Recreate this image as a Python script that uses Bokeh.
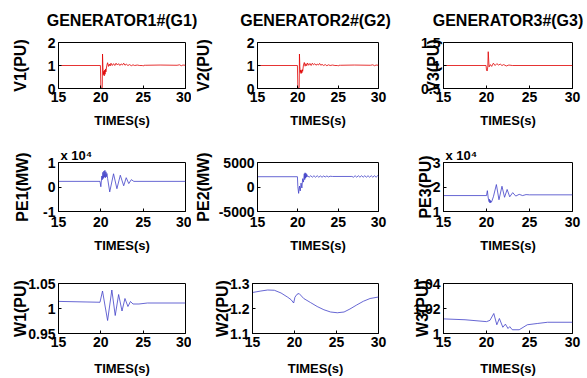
from bokeh.plotting import figure
from bokeh.layouts import column, row
from bokeh.models import FixedTicker, Range1d, Title, ColumnDataSource
from bokeh.core.properties import value
from bokeh.embed import file_html
from bokeh.resources import INLINE

FONT = "Liberation Sans"

# ---------------- data ----------------
titles = ["GENERATOR1#(G1)", "GENERATOR2#(G2)", "GENERATOR3#(G3)"]
x_ticks = [15, 20, 25, 30]
x_label = "TIMES(s)"

# Row 1: terminal voltage (PU)
t_v1 = [15.0, 19.95, 20.0, 20.05, 20.12, 20.17, 20.2, 20.25, 20.3, 20.35, 20.4, 20.45, 20.5, 20.55,
        20.6, 20.7, 20.8, 20.9, 21.0, 21.1, 21.2, 21.35, 21.5, 21.65, 21.8, 21.95, 22.1, 22.25,
        22.4, 22.55, 22.7, 22.85, 23.0, 23.2, 23.4, 23.6, 23.8, 24.0, 24.3, 24.6, 24.9, 25.0,
        25.1, 25.3, 27.0, 29.0, 29.3, 29.5, 29.7, 30.0]
v1 = [1.0, 1.0, 0.05, 0.02, 0.04, 0.03, 1.5, 0.9, 0.6, 0.75, 0.55, 0.8, 0.62, 0.85,
      0.72, 1.0, 1.12, 0.96, 1.06, 0.98, 1.1, 1.0, 1.08, 1.0, 1.1, 1.02, 1.08, 1.0,
      1.07, 1.02, 1.1, 1.01, 1.06, 1.0, 1.04, 0.99, 1.03, 1.0, 1.02, 1.0, 1.0, 0.98,
      1.01, 1.01, 1.02, 1.01, 1.03, 0.99, 1.02, 1.01]

t_v2 = [15.0, 19.95, 20.0, 20.05, 20.12, 20.17, 20.2, 20.25, 20.3, 20.35, 20.4, 20.45, 20.5, 20.55,
        20.6, 20.7, 20.8, 20.9, 21.0, 21.1, 21.2, 21.35, 21.5, 21.65, 21.8, 21.95, 22.1, 22.25,
        22.4, 22.55, 22.7, 22.85, 23.0, 23.2, 23.4, 23.6, 23.8, 24.0, 24.3, 24.6, 24.9, 25.0,
        25.1, 25.3, 27.0, 29.0, 29.3, 29.5, 29.7, 30.0]
v2 = [1.0, 1.0, 0.06, 0.03, 0.05, 0.04, 1.5, 0.95, 0.7, 0.8, 0.65, 0.78, 0.68, 0.82,
      0.75, 1.02, 1.13, 0.97, 1.08, 0.99, 1.11, 1.01, 1.09, 1.0, 1.1, 1.03, 1.08, 1.01,
      1.06, 1.02, 1.09, 1.01, 1.05, 1.0, 1.04, 0.99, 1.03, 1.0, 1.02, 1.0, 1.0, 0.98,
      1.01, 1.01, 1.02, 1.01, 1.03, 0.99, 1.02, 1.01]

t_v3 = [15.0, 19.95, 20.0, 20.08, 20.15, 20.2, 20.3, 20.45, 20.6, 20.8, 21.0, 21.2, 21.4, 21.6,
        21.8, 22.0, 22.3, 22.6, 23.0, 30.0]
v3 = [1.0, 1.0, 0.9, 0.88, 0.97, 1.3, 0.97, 1.02, 0.98, 1.05, 1.0, 1.04, 1.01, 1.03,
      1.0, 1.02, 0.99, 1.01, 1.0, 1.0]

# Row 2: electrical power (MW)
t_pe1 = [15.0, 19.9, 20.0, 20.05, 20.12, 20.18, 20.24, 20.3, 20.36, 20.42, 20.48, 20.54, 20.6,
         20.66, 20.72, 20.8, 21.05, 21.5, 21.9, 22.3, 22.7, 23.0, 23.3, 23.6, 23.9, 30.0]
pe1 = [2300, 2300, 100, 2000, 4500, 3000, 6000, 3500, 6500, 4000, 6800, 3800, 6200,
       4200, 5500, 3500, -2000, 5400, -700, 4800, 500, 3800, 1400, 3000, 2300, 2300]

t_pe2 = [15.0, 19.95, 20.0, 20.1, 20.2, 20.3, 20.4, 20.5, 20.6, 20.7, 20.8, 20.85, 20.9, 20.95,
         21.0, 21.05, 21.1, 21.15, 21.2,
         21.4, 21.6, 21.8, 22.0, 22.2, 22.4, 22.6, 22.8, 23.0, 23.2, 23.4, 23.6, 23.8, 24.0,
         24.3, 26.7,
         26.9, 27.1, 27.3, 27.5, 27.7, 27.9, 28.1, 28.3, 28.5, 28.7, 28.9, 29.1, 29.3, 29.5,
         29.7, 29.9, 30.0]
pe2 = [2100, 2100, 100, -1300, 200, -800, 800, -200, 1700, 1000, 2700, 1500, 2900, 1800,
       2800, 2000, 2600, 2100, 2300,
       2000, 2300, 2000, 2300, 2000, 2300, 2000, 2250, 2000, 2250, 2050, 2250, 2050, 2200,
       2150, 2150,
       2000, 2300, 2000, 2300, 2000, 2300, 2000, 2300, 2000, 2300, 2000, 2300, 2000, 2300,
       2000, 2300, 2150]

t_pe3 = [15.0, 20.0, 20.1, 20.2, 20.3, 20.35, 20.4, 20.45, 20.5, 20.55, 20.6, 20.8, 21.15,
         21.45, 21.8, 22.1, 22.4, 22.7, 23.05, 23.4, 23.8, 24.2, 24.6, 25.0, 30.0]
pe3 = [16500, 16500, 18500, 15500, 14000, 15000, 13500, 14500, 13600, 14200, 14000, 16000, 21000,
       14800, 20300, 15800, 19000, 16000, 17700, 16300, 17000, 16500, 16900, 16800, 16800]

# Row 3: rotor speed (PU)
t_w1 = [15.0, 19.9, 20.2, 20.5, 20.8, 21.3, 21.7, 22.1, 22.5, 22.85, 23.2, 23.5, 23.8, 24.5,
        25.5, 30.0]
w1 = [1.0142, 1.0125, 1.035, 1.005, 0.976, 1.037, 0.986, 1.028, 0.995, 1.02, 1.004, 1.014,
      1.009, 1.009, 1.011, 1.011]

t_w2 = [15.0, 16.0, 16.8, 17.6, 18.4, 19.2, 19.6, 19.9, 20.05, 20.3, 20.55, 21.1, 21.9, 22.7,
        23.5, 24.3, 25.1, 25.9, 26.6, 27.4, 28.2, 29.0, 30.0]
w2 = [1.264, 1.27, 1.274, 1.273, 1.262, 1.245, 1.235, 1.222, 1.245, 1.257, 1.26, 1.24, 1.224,
      1.208, 1.195, 1.186, 1.183, 1.186, 1.198, 1.214, 1.229, 1.24, 1.246]

t_w3 = [15.0, 17.5, 20.0, 20.4, 20.85, 21.2, 21.5, 21.9, 22.2, 22.5, 22.7, 23.0, 23.8, 24.75,
        25.9, 27.1, 30.0]
w3 = [1.0117, 1.011, 1.0095, 1.0105, 1.016, 1.007, 1.012, 1.005, 1.0075, 1.004, 1.0055, 1.003,
      1.003, 1.007, 1.008, 1.009, 1.009]

y_labels = [["V1(PU)", "V2(PU)", "V3(PU)"],
            ["PE1(MW)", "PE2(MW)", "PE3(PU)"],
            ["W1(PU)", "W2(PU)", "W3(PU)"]]
y_ranges = [[(0, 2), (0, 2), (0.5, 1.5)],
            [(-10000, 10000), (-5000, 5000), (10000, 30000)],
            [(0.95, 1.05), (1.1, 1.3), (1.0, 1.04)]]
y_ticks = [[[0, 1, 2], [0, 1, 2], [0.5, 1, 1.5]],
           [[-10000, 0, 10000], [-5000, 0, 5000], [10000, 20000, 30000]],
           [[0.95, 1, 1.05], [1.1, 1.2, 1.3], [1.0, 1.02, 1.04]]]
y_tick_text = [[["0", "1", "2"], ["0", "1", "2"], ["0.5", "1", "1.5"]],
               [["-1", "0", "1"], ["-5000", "0", "5000"], ["1", "2", "3"]],
               [["0.95", "1", "1.05"], ["1.1", "1.2", "1.3"], ["1", "1.02", "1.04"]]]
exponent = [[None, None, None], ["x 10\u2074", None, "x 10\u2074"], [None, None, None]]
series = [[(t_v1, v1), (t_v2, v2), (t_v3, v3)],
          [(t_pe1, pe1), (t_pe2, pe2), (t_pe3, pe3)],
          [(t_w1, w1), (t_w2, w2), (t_w3, w3)]]
row_colors = ["#e00000", "#4040c8", "#4040c8"]

# ---------------- layout (pixels) ----------------
STRIP_H = 30
TITLE_Y = 10.5
cols = [(191, 58, 6), (209, 61, 22), (187, 43, 15)]       # width, left border, right border
rows = [(100, [10, 10, 12], [38, 39, 40]),
        (125, [31, 30, 32], [40, 40, 42]),
        (123, [28, 28, 28], [41, 39, 41])]
x_standoffs = [(3, 8), (5, 8), (3, 11)]                    # tick-label, axis-label standoff per row
label_standoff = [[16, 32, -24], [9, 4, -4], [-4, -4, -21]]
TOTAL_W = sum(c[0] for c in cols)


def style_axis(ax, label):
    ax.axis_label = label
    ax.axis_label_text_font = FONT
    ax.axis_label_text_font_style = "bold"
    ax.major_label_text_font = FONT
    ax.major_label_text_font_style = "bold"
    ax.major_label_text_font_size = "14px"
    ax.major_label_text_color = "black"
    ax.axis_label_text_color = "black"
    ax.major_tick_in = 3
    ax.major_tick_out = 0
    ax.minor_tick_line_color = None
    ax.axis_line_color = "black"
    ax.major_tick_line_color = "black"


figs_rows = []
for r, (rh, tops, bottoms) in enumerate(rows):
    figs = []
    for c, (cw, bl, br) in enumerate(cols):
        y0, y1 = y_ranges[r][c]
        p = figure(width=cw, height=rh, x_range=Range1d(15, 30), y_range=Range1d(y0, y1),
                   output_backend="svg", toolbar_location=None, title=None,
                   min_border_left=bl, min_border_right=br,
                   min_border_top=tops[c], min_border_bottom=bottoms[c])
        t, v = series[r][c]
        p.line(t, v, line_color=row_colors[r], line_width=0.8)
        p.grid.visible = False
        p.outline_line_color = "black"
        p.background_fill_color = "white"
        p.border_fill_color = "white"

        xa = p.xaxis[0]
        style_axis(xa, x_label)
        xa.ticker = FixedTicker(ticks=x_ticks)
        xa.major_label_overrides = {x: str(x) for x in x_ticks}
        xa.axis_label_text_font_size = "13px"
        xa.major_label_standoff = x_standoffs[r][0]
        xa.axis_label_standoff = x_standoffs[r][1]

        ya = p.yaxis[0]
        style_axis(ya, y_labels[r][c])
        ya.ticker = FixedTicker(ticks=y_ticks[r][c])
        ya.major_label_overrides = dict(zip(y_ticks[r][c], y_tick_text[r][c]))
        ya.axis_label_text_font_size = "16px"
        ya.major_label_standoff = 3
        ya.axis_label_standoff = label_standoff[r][c]

        if exponent[r][c]:
            p.add_layout(Title(text=exponent[r][c], align="left", offset=2, standoff=0,
                               text_font=FONT, text_font_style="bold", text_font_size="13px",
                               text_color="black"), "above")
        figs.append(p)
    figs_rows.append(row(*figs, spacing=0))

# strip holding the three column titles
centres = []
x_start = 0
for cw, bl, br in cols:
    centres.append(x_start + bl + (cw - bl - br) / 2)
    x_start += cw
title_src = ColumnDataSource(dict(x=centres, y=[TITLE_Y] * 3, text=titles))

strip = figure(width=TOTAL_W, height=STRIP_H, x_range=Range1d(0, TOTAL_W),
               y_range=Range1d(0, STRIP_H), x_axis_type=None, y_axis_type=None,
               output_backend="svg", toolbar_location=None, min_border=0, title=None)
strip.grid.visible = False
strip.outline_line_color = None
strip.text(x="x", y="y", text="text", source=title_src, text_font=value(FONT),
           text_font_style="bold", text_font_size="16px", text_color="black",
           text_align="center", text_baseline="alphabetic")

layout = column(strip, *figs_rows, spacing=0)
open("out.html", "w").write(file_html(layout, INLINE))
